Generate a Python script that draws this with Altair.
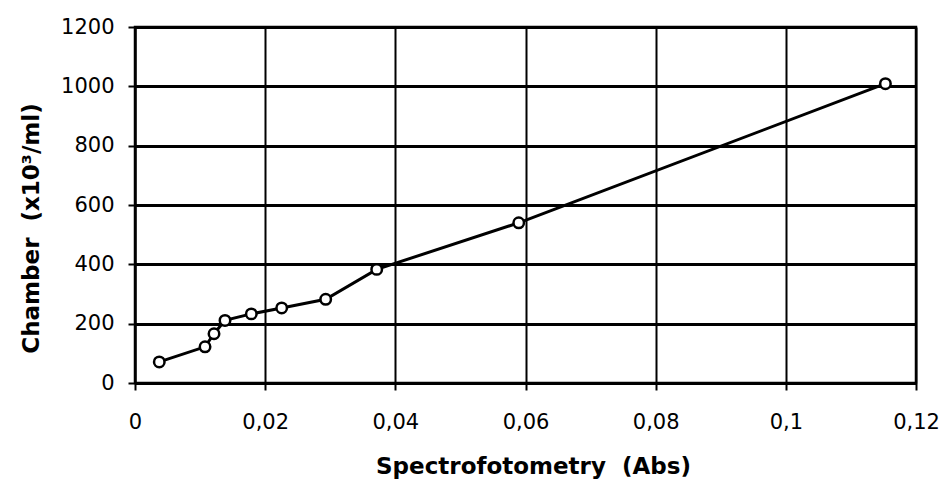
import altair as alt
import pandas as pd

abs_vals = [0.00373, 0.01076, 0.01214, 0.01383, 0.01787, 0.02254, 0.0293, 0.03714, 0.05896, 0.1153]
chamber = [71, 122, 166, 211, 233, 253, 282, 383, 540, 1009]
x_ticks = [0, 0.02, 0.04, 0.06, 0.08, 0.1, 0.12]
y_ticks = [0, 200, 400, 600, 800, 1000, 1200]

df = pd.DataFrame({"abs": abs_vals, "chamber": chamber})

x_enc = alt.X("abs:Q", scale=alt.Scale(domain=[0, 0.12], nice=False, zero=False),
              axis=alt.Axis(values=x_ticks, title="Spectrofotometry\u00a0\u00a0(Abs)",
                            labelExpr="replace(toString(datum.value), '.', ',')",
                            gridWidth=2, tickSize=7, labelPadding=21, labelFlush=False,
                            labelOverlap=False,
                            titleY=90, titleBaseline="alphabetic", titleX=398))
y_enc = alt.Y("chamber:Q", scale=alt.Scale(domain=[0, 1200], nice=False),
              axis=alt.Axis(values=y_ticks, format="d", title="Chamber\u00a0\u00a0(x10³/ml)",
                            gridWidth=3, tickSize=7, labelPadding=14, labelFlush=False,
                            labelOverlap=False,
                            titleX=-92, titleY=201))

base = alt.Chart(df).encode(x=x_enc, y=y_enc)
line = base.mark_line(color="black", strokeWidth=3)
pts = base.mark_point(shape="circle", filled=True, fill="white", stroke="black",
                      strokeWidth=2.5, size=110, opacity=1)

chart = (line + pts).properties(
    width=781, height=356,
    autosize=alt.AutoSizeParams(type="none"),
    padding={"left": 127, "top": 19, "right": 24, "bottom": 97},
    background="white",
).configure_view(stroke="black", strokeWidth=2.5).configure_axis(
    domainColor="black", domainWidth=2, tickColor="black", tickWidth=2,
    gridColor="black", gridOpacity=1,
    labelFont="DejaVu Sans", labelFontSize=21, labelColor="black",
    titleFont="DejaVu Sans", titleFontSize=23, titleFontWeight="bold", titleColor="black",
)

chart.save("out.html", embed_options={"renderer": "svg", "actions": False})
